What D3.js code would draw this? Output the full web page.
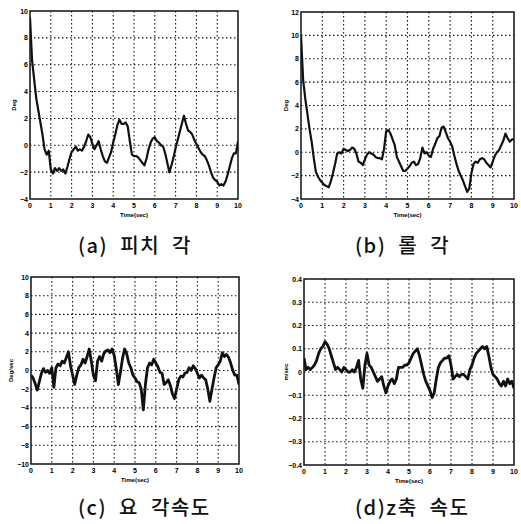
<!DOCTYPE html>
<html>
<head>
<meta charset="utf-8">
<script src="https://cdn.jsdelivr.net/npm/d3@7"></script>
<style>
	body { margin: 0; background: #fff; }
	svg { display: block; }
</style>
</head>
<body>
<div id="chart"></div>
<script>
// sample times, 0..10 s every 0.1 s
const time = d3.range(101).map(i => i / 10);

// (a) pitch angle, deg
const pitch = [
	9.5, 6.3, 4.9, 3.5, 2.6, 1.7, 0.8, -0.3, -0.7, -0.4,
	-1.8, -2.1, -1.7, -1.9, -1.7, -1.9, -1.8, -2.1, -1.6, -1.0,
	-0.5, -0.3, -0.1, -0.4, -0.3, -0.4, -0.1, 0.3, 0.8, 0.6,
	0.1, -0.3, 0.0, 0.3, -0.3, -0.8, -1.2, -1.3, -0.9, -0.5,
	0.2, 0.8, 1.5, 1.9, 1.6, 1.6, 1.7, 1.4, 0.3, -0.7,
	-0.8, -0.8, -0.9, -1.1, -1.3, -1.5, -1.0, -0.3, 0.2, 0.5,
	0.6, 0.3, 0.2, 0.0, -0.1, -0.6, -1.3, -2.0, -1.5, -0.9,
	-0.2, 0.4, 1.0, 1.6, 2.2, 1.6, 1.1, 1.0, 0.8, 0.4,
	0.1, -0.2, -0.5, -0.7, -0.8, -1.1, -1.5, -2.0, -2.4, -2.6,
	-2.7, -3.0, -2.9, -3.0, -2.7, -2.2, -1.6, -1.0, -0.6, -0.6,
	0.3
];

// (b) roll angle, deg
const roll = [
	10.0, 6.2, 4.6, 3.3, 2.0, 0.9, -0.5, -1.7, -2.1, -2.4,
	-2.6, -2.8, -2.9, -3.0, -2.5, -1.8, -1.0, -0.1, 0.0, -0.1,
	0.3, 0.2, 0.1, 0.2, 0.4, 0.3, -0.1, -0.8, -0.9, -1.1,
	-0.6, -0.2, 0.0, -0.1, -0.2, -0.4, -0.5, -0.5, -0.6, 0.3,
	1.8, 1.9, 1.6, 1.1, 0.6, -0.4, -0.8, -1.2, -1.6, -1.6,
	-1.4, -1.2, -0.9, -0.8, -1.1, -1.0, -0.5, 0.4, -0.1, 0.0,
	-0.3, -0.4, 0.3, 0.7, 1.2, 1.4, 2.1, 2.2, 1.7, 1.2,
	0.9, 0.5, -0.3, -1.0, -1.6, -2.0, -2.4, -2.9, -3.4, -3.1,
	-1.8, -1.0, -0.8, -0.9, -0.6, -0.5, -0.6, -0.9, -1.1, -1.3,
	-0.8, -0.3, 0.0, 0.2, 0.6, 1.0, 1.6, 1.2, 0.9, 1.1,
	1.1
];

// (c) yaw rate, deg/sec
const yawRate = [
	-0.5, -0.8, -1.4, -2.1, -1.2, -0.3, 0.2, -0.2, 0.0, -0.3,
	0.3, -1.8, 0.3, 0.7, 0.5, 1.0, 0.8, 1.4, 2.0, 0.5,
	-0.5, -1.5, -0.5, 0.3, 0.6, 1.2, 0.8, 1.5, 2.3, 1.0,
	-0.5, -1.1, 1.0, 1.5, 1.0, 1.8, 2.1, 2.2, 1.9, 2.3,
	1.6, 0.2, -1.5, -0.2, 1.3, 2.3, 1.8, 0.8, 0.3, -0.5,
	-0.8, -1.2, -1.3, -2.0, -4.2, -1.5, 0.3, 0.8, 0.6, 1.2,
	0.8, 0.4, -0.2, -0.3, -1.5, -1.3, -1.0, -1.6, -2.5, -3.0,
	-2.0, -1.0, -0.6, -0.7, -0.3, -0.2, 0.3, 0.0, 0.5, 0.2,
	-0.3, -0.8, -0.5, -0.8, -1.0, -2.0, -3.3, -2.0, -0.8, 0.3,
	0.6, 1.0, 1.9, 1.5, 1.7, 1.4, 0.8, 0.0, -0.5, -0.5,
	-1.5
];

// (d) z-axis velocity, m/sec
const zVel = [
	0.06, 0.01, 0.02, 0.01, 0.02, 0.03, 0.05, 0.08, 0.10, 0.11,
	0.13, 0.12, 0.10, 0.07, 0.04, 0.01, 0.02, 0.01, 0.00, 0.02,
	0.01, 0.00, 0.00, 0.01, 0.00, 0.02, 0.05, -0.03, -0.07, 0.03,
	0.08, 0.03, 0.02, 0.00, -0.02, -0.04, -0.03, -0.02, -0.06, -0.09,
	-0.06, -0.04, -0.03, -0.05, -0.03, 0.02, 0.02, 0.02, 0.03, 0.03,
	0.04, 0.06, 0.08, 0.09, 0.10, 0.07, 0.03, -0.01, -0.04, -0.06,
	-0.08, -0.11, -0.09, -0.03, 0.02, 0.04, 0.05, 0.06, 0.06, 0.07,
	0.03, -0.03, -0.02, -0.01, -0.02, -0.01, -0.01, -0.02, -0.03, 0.01,
	0.03, 0.06, 0.08, 0.09, 0.10, 0.11, 0.10, 0.11, 0.07, 0.02,
	-0.01, -0.02, -0.03, -0.05, -0.06, -0.04, -0.06, -0.03, -0.05, -0.04,
	-0.07
];

const xTicks = d3.range(0, 11);
const pitchTicks = [-4, -2, 0, 2, 4, 6, 8, 10];
const rollTicks = [-4, -2, 0, 2, 4, 6, 8, 10, 12];
const yawTicks = [-10, -8, -6, -4, -2, 0, 2, 4, 6, 8, 10];
const zTicks = [-0.4, -0.3, -0.2, -0.1, 0, 0.1, 0.2, 0.3, 0.4];

const panels = [
	{ id: 'a', values: pitch, ticks: pitchTicks, yLabel: 'Deg', caption: '(a)  피치  각',
		box: { left: 30, right: 238, top: 11, bottom: 199 }, capX: 78, capY: 253, yLabX: 16 },
	{ id: 'b', values: roll, ticks: rollTicks, yLabel: 'Deg', caption: '(b)  롤  각',
		box: { left: 301, right: 514, top: 12, bottom: 199 }, capX: 355, capY: 253, yLabX: 288 },
	{ id: 'c', values: yawRate, ticks: yawTicks, yLabel: 'Deg/sec', caption: '(c)  요  각속도',
		box: { left: 31, right: 239, top: 277, bottom: 464 }, capX: 78, capY: 515, yLabX: 13 },
	{ id: 'd', values: zVel, ticks: zTicks, yLabel: 'm/sec', caption: '(d)z축  속도',
		box: { left: 304, right: 514, top: 279, bottom: 465 }, capX: 355, capY: 515, yLabX: 288 }
];

const width = 521, height = 524;

const svg = d3.select('#chart').append('svg')
		.attr('width', width)
		.attr('height', height);

const defs = svg.append('defs');

panels.forEach(p => {
	let b = p.box;
	let x = d3.scaleLinear().domain([0, 10]).range([b.left, b.right]);
	let y = d3.scaleLinear().domain(d3.extent(p.ticks)).range([b.bottom, b.top]);
	let g = svg.append('g');

	// grid
	g.append('g')
			.selectAll('line')
			.data(xTicks.slice(1, -1))
			.enter()
			.append('line')
			.attr('x1', d => x(d)).attr('x2', d => x(d))
			.attr('y1', b.top).attr('y2', b.bottom)
			.attr('stroke', '#111')
			.attr('stroke-width', 1.1)
			.attr('stroke-dasharray', '1.5,2.5');

	g.append('g')
			.selectAll('line')
			.data(p.ticks.slice(1, -1))
			.enter()
			.append('line')
			.attr('x1', b.left).attr('x2', b.right)
			.attr('y1', d => y(d)).attr('y2', d => y(d))
			.attr('stroke', '#111')
			.attr('stroke-width', 1.1)
			.attr('stroke-dasharray', '1.5,2.5');

	// trace
	defs.append('clipPath')
			.attr('id', 'clip-' + p.id)
			.append('rect')
			.attr('x', b.left).attr('y', b.top)
			.attr('width', b.right - b.left).attr('height', b.bottom - b.top);

	let line = d3.line()
			.x((d, i) => x(time[i]))
			.y(d => y(d));

	g.append('path')
			.datum(p.values)
			.attr('clip-path', `url(#clip-${p.id})`)
			.attr('d', line)
			.attr('fill', 'none')
			.attr('stroke', '#111')
			.attr('stroke-width', p.id == 'c' || p.id == 'd' ? 2.8 : 2.2)
			.attr('stroke-linejoin', 'round');

	// frame
	g.append('rect')
			.attr('x', b.left).attr('y', b.top)
			.attr('width', b.right - b.left).attr('height', b.bottom - b.top)
			.attr('fill', 'none')
			.attr('stroke', '#111')
			.attr('stroke-width', 1.5);

	// tick labels
	let fmt = p.id == 'd' ? (d => d == 0 ? '0' : d3.format('.1f')(d)) : d3.format('d');

	g.append('g')
			.selectAll('text')
			.data(xTicks)
			.enter()
			.append('text')
			.attr('x', d => x(d))
			.attr('y', b.bottom + 9)
			.attr('text-anchor', 'middle')
			.style('font', 'bold 7px "Liberation Sans", Arial, sans-serif')
			.text(d => d);

	g.append('g')
			.selectAll('text')
			.data(p.ticks)
			.enter()
			.append('text')
			.attr('x', b.left - 2)
			.attr('y', d => y(d) + 2.5)
			.attr('text-anchor', 'end')
			.style('font', 'bold 7px "Liberation Sans", Arial, sans-serif')
			.text(fmt);

	// axis labels
	g.append('text')
			.attr('x', (b.left + b.right) / 2)
			.attr('y', b.bottom + 18)
			.attr('text-anchor', 'middle')
			.style('font', 'bold 6px "Liberation Sans", Arial, sans-serif')
			.text('Time(sec)');

	g.append('text')
			.attr('transform', `translate(${p.yLabX}, ${(b.top + b.bottom) / 2}) rotate(-90)`)
			.attr('text-anchor', 'middle')
			.style('font', 'bold 6px "Liberation Sans", Arial, sans-serif')
			.text(p.yLabel);

	// caption
	svg.append('text')
			.attr('x', p.capX)
			.attr('y', p.capY)
			.style('font', '500 20px "Noto Sans CJK KR", sans-serif')
			.style('letter-spacing', '1.5px')
			.style('white-space', 'pre')
			.attr('fill', '#111')
			.text(p.caption);
});
</script>
</body>
</html>
